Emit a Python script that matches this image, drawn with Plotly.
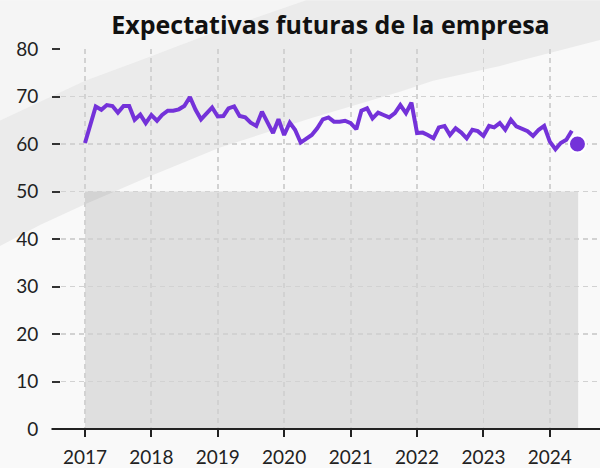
import pandas as pd
import plotly.graph_objects as go

# ---- data ----
start_month = "2017-01-01"
values = [
    60.2, 64.0, 67.9, 67.2, 68.2, 68.0, 66.6, 68.0, 68.0, 65.1, 66.2, 64.4,   # 2017
    66.1, 64.9, 66.1, 67.0, 67.0, 67.3, 68.0, 69.9, 67.2, 65.2, 66.5, 67.7,   # 2018
    65.8, 65.9, 67.5, 67.9, 65.9, 65.6, 64.5, 63.8, 66.8, 64.5, 62.3, 65.2,   # 2019
    61.9, 64.5, 63.0, 60.3, 61.0, 61.9, 63.3, 65.2, 65.6, 64.7, 64.7, 64.9,   # 2020
    64.4, 63.1, 67.0, 67.5, 65.4, 66.6, 66.1, 65.6, 66.5, 68.2, 66.5, 68.7,   # 2021
    62.3, 62.4, 61.9, 61.2, 63.5, 63.8, 61.9, 63.3, 62.4, 61.2, 63.0, 62.7,   # 2022
    61.7, 63.8, 63.5, 64.4, 63.0, 65.1, 63.7, 63.3, 62.7, 61.7, 63.0, 63.8,   # 2023
    60.5, 58.9, 60.2, 60.9, 62.8,                                             # 2024
]
dates = pd.date_range(start_month, periods=len(values), freq="MS")

last_date = "2024-06-01"
last_value = 60.0

band_x0 = "2017-01-01"
band_x1 = "2024-06-05"
band_y0 = 0
band_y1 = 50

tick_years = [f"{y}-01-01" for y in range(2017, 2025)]
tick_text = [str(y) for y in range(2017, 2025)]
y_ticks = [0, 10, 20, 30, 40, 50, 60, 70, 80]

title_text = "Expectativas futuras de la empresa"

# ---- layout geometry ----
W, H = 600, 468
ML, MR, MT, MB = 61, 0, 49, 37
PW, PH = W - ML - MR, H - MT - MB
PURPLE = "#7432D9"
FONT = "Lato"


def px2paper(x, y):
    return (x - ML) / PW, (H - MB - y) / PH


def poly_path(pts):
    parts = []
    for i, (x, y) in enumerate(pts):
        px, py = px2paper(x, y)
        parts.append(("M" if i == 0 else "L") + f"{px:.4f},{py:.4f}")
    return " ".join(parts) + " Z"


# decorative background regions (pixel coordinates)
upper_edge = [(0, 121), (40, 102), (85, 81), (141, 60), (220, 30), (306, 0)]
lower_edge = [(600, 40), (500, 66), (433, 81), (400, 92), (310, 119), (220, 148),
              (150, 177), (85, 205), (40, 226), (0, 247)]
band_pts = upper_edge + [(600, 0)] + lower_edge
topleft_pts = [(0, 0), (306, 0)] + list(reversed(upper_edge))[1:]

fig = go.Figure()

fig.add_trace(go.Scatter(
    x=dates, y=values, mode="lines",
    line=dict(color=PURPLE, width=4),
    hoverinfo="skip", showlegend=False,
))
fig.add_trace(go.Scatter(
    x=[last_date], y=[last_value], mode="markers",
    marker=dict(color=PURPLE, size=17, line=dict(color="white", width=2)),
    hoverinfo="skip", showlegend=False,
))

shapes = [
    dict(type="path", xref="paper", yref="paper", path=poly_path(topleft_pts),
         fillcolor="#f5f5f5", line=dict(width=0), layer="below"),
    dict(type="path", xref="paper", yref="paper", path=poly_path(band_pts),
         fillcolor="#ebebeb", line=dict(width=0), layer="below"),
    dict(type="rect", xref="x", yref="y", x0=band_x0, x1=band_x1, y0=band_y0, y1=band_y1,
         fillcolor="rgba(0,0,0,0.1)", line=dict(width=0), layer="below"),
    dict(type="line", xref="paper", yref="paper", x0=-9.5 / PW, x1=1, y0=0, y1=0,
         line=dict(color="#222222", width=2.2), layer="above"),
]

fig.update_layout(
    width=W, height=H,
    margin=dict(l=ML, r=MR, t=MT, b=MB),
    paper_bgcolor="#f9f9f9",
    plot_bgcolor="rgba(0,0,0,0)",
    shapes=shapes,
    title=dict(text=f"<b>{title_text}</b>", x=0.5, xref="paper", xanchor="center",
               y=1 - 25 / H, yref="container", yanchor="middle",
               font=dict(family="Open Sans", size=25, color="#111111")),
    font=dict(family=FONT, color="#222222"),
    showlegend=False,
)

fig.update_xaxes(
    type="date",
    range=["2016-08-22", "2024-10-03"],
    tickvals=tick_years, ticktext=tick_text,
    showgrid=True, gridcolor="#d2d2d2", gridwidth=1.8, griddash="5px,4px",
    ticks="outside", ticklen=7, tickwidth=2, tickcolor="#222222",
    tickfont=dict(family=FONT, size=19, color="#222222"),
    ticklabelstandoff=4,
    showline=False, zeroline=False,
)
fig.update_yaxes(
    range=[0, 80],
    tickvals=y_ticks,
    showgrid=True, gridcolor="#d2d2d2", gridwidth=1.8, griddash="5px,4px",
    ticks="outside", ticklen=8, tickwidth=2, tickcolor="#333333",
    tickfont=dict(family=FONT, size=19, color="#222222"),
    ticklabelstandoff=10,
    showline=False, zeroline=False,
)

fig.write_html(
    "out.html",
    config={"displayModeBar": False, "staticPlot": True},
    post_script="document.body.style.margin='0';document.body.style.background='#f9f9f9';",
)
